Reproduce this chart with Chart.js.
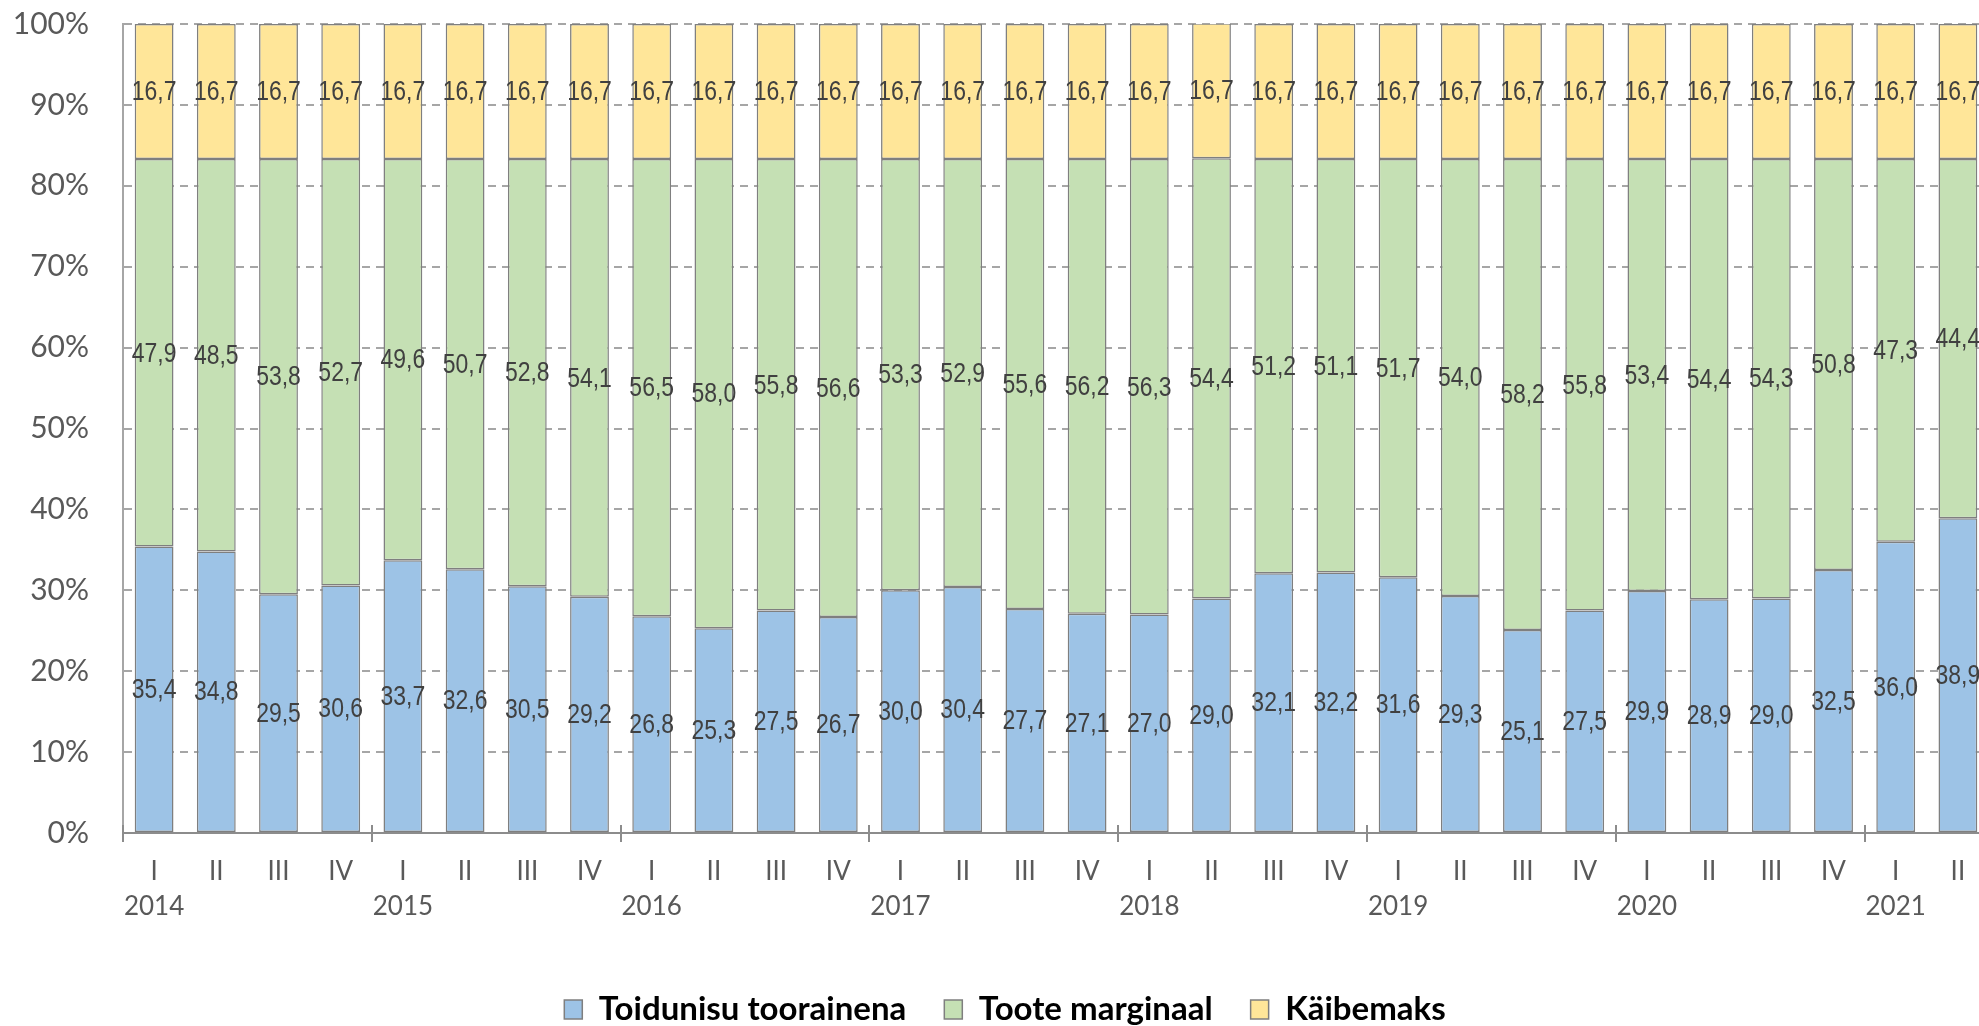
<!DOCTYPE html>
<html>
<head>
<meta charset="utf-8">
<script src="https://cdn.jsdelivr.net/npm/chart.js@4/dist/chart.umd.min.js"></script>
<style>
  html, body { margin: 0; padding: 0; background: #ffffff; overflow: hidden; width: 1979px; height: 1026px; }
  #wrap { position: absolute; left: 0; top: 0; width: 2010px; height: 1036px; }
  canvas { display: block; }
</style>
</head>
<body>
<div id="wrap"><canvas id="c" width="2010" height="1036" style="width:2010px;height:1036px"></canvas></div>
<script>
// ---- DATA ----
const quarters = ['I','II','III','IV','I','II','III','IV','I','II','III','IV','I','II','III','IV',
                  'I','II','III','IV','I','II','III','IV','I','II','III','IV','I','II'];
const years = ['2014','','','','2015','','','','2016','','','','2017','','','',
               '2018','','','','2019','','','','2020','','','','2021',''];
const seriesNames = ['Toidunisu toorainena', 'Toote marginaal', 'Käibemaks'];
const toorainena = [35.4, 34.8, 29.5, 30.6, 33.7, 32.6, 30.5, 29.2, 26.8, 25.3, 27.5, 26.7, 30.0, 30.4, 27.7,
                    27.1, 27.0, 29.0, 32.1, 32.2, 31.6, 29.3, 25.1, 27.5, 29.9, 28.9, 29.0, 32.5, 36.0, 38.9];
const marginaal = [47.9, 48.5, 53.8, 52.7, 49.6, 50.7, 52.8, 54.1, 56.5, 58.0, 55.8, 56.6, 53.3, 52.9, 55.6,
                   56.2, 56.3, 54.4, 51.2, 51.1, 51.7, 54.0, 58.2, 55.8, 53.4, 54.4, 54.3, 50.8, 47.3, 44.4];
const kaibemaks = [16.7, 16.7, 16.7, 16.7, 16.7, 16.7, 16.7, 16.7, 16.7, 16.7, 16.7, 16.7, 16.7, 16.7, 16.7,
                   16.7, 16.7, 16.7, 16.7, 16.7, 16.7, 16.7, 16.7, 16.7, 16.7, 16.7, 16.7, 16.7, 16.7, 16.7];
const yTicks = [0, 10, 20, 30, 40, 50, 60, 70, 80, 90, 100];

// narrow look: Liberation Sans squeezed horizontally (Arial Narrow is ~82% of Arial)
const labelFont = '28px "Liberation Sans", Arial, sans-serif';
const labelSqueeze = 0.82;

// ---- PLUGINS ----
const valueLabels = {
  id: 'valueLabels',
  afterDatasetsDraw(chart) {
    const ctx = chart.ctx;
    chart.data.datasets.forEach((ds, di) => {
      const meta = chart.getDatasetMeta(di);
      meta.data.forEach((el, i) => {
        const v = ds.data[i];
        const yc = (el.y + el.base) / 2;
        ctx.save();
        ctx.font = labelFont;
        ctx.fillStyle = '#404040';
        ctx.textAlign = 'center';
        ctx.textBaseline = 'middle';
        ctx.translate(el.x, yc + 1);
        ctx.scale(labelSqueeze, 1);
        ctx.fillText(v.toFixed(1).replace('.', ','), 0, 0);
        ctx.restore();
      });
    });
  }
};

const yearTicks = {
  id: 'yearTicks',
  afterDraw(chart) {
    const xs = chart.scales.x;
    const ctx = chart.ctx;
    const n = chart.data.labels.length;
    const half = xs.width / n / 2;
    const b = xs.top;
    ctx.save();
    ctx.strokeStyle = '#8c8c8c';
    ctx.lineWidth = 2;
    ctx.beginPath();
    for (let i = 0; i <= n; i++) {
      if (i % 4 !== 0) continue;
      const x = Math.round((i < n ? xs.getPixelForValue(i) : xs.getPixelForValue(n - 1) + 2 * half) - half);
      ctx.moveTo(x, b - 8);
      ctx.lineTo(x, b + 9);
    }
    ctx.stroke();
    ctx.restore();
  }
};

const colors = ['#9DC3E6', '#C5E0B4', '#FFE699'];
const values = [toorainena, marginaal, kaibemaks];

new Chart(document.getElementById('c'), {
  type: 'bar',
  data: {
    labels: quarters.map((q, i) => [q, years[i]]),
    datasets: seriesNames.map((name, k) => ({
      label: name,
      data: values[k],
      backgroundColor: colors[k],
      borderColor: '#7f7f7f',
      borderWidth: 1.5,
      borderSkipped: false,
      barPercentage: 0.624,
      categoryPercentage: 1.0
    }))
  },
  options: {
    responsive: false,
    devicePixelRatio: 1,
    animation: false,
    layout: { padding: { top: 24, left: 0, right: 0, bottom: 0 } },
    plugins: {
      legend: {
        position: 'bottom',
        labels: {
          font: { family: 'Lato', size: 33, weight: 'bold' },
          color: '#000000',
          boxWidth: 18,
          boxHeight: 19,
          padding: 38
        }
      },
      tooltip: { enabled: false }
    },
    scales: {
      x: {
        stacked: true,
        grid: { display: false, drawTicks: false },
        border: { display: true, color: '#8c8c8c', width: 2 },
        ticks: {
          autoSkip: false,
          maxRotation: 0,
          minRotation: 0,
          padding: 21,
          color: '#595959',
          font: { family: 'Lato', size: 26, lineHeight: 35 / 26 }
        },
        afterFit(s) { s.height = 122; }
      },
      y: {
        stacked: true,
        min: 0,
        max: 100,
        afterBuildTicks(s) { s.ticks = yTicks.map(v => ({ value: v })); },
        grid: {
          drawTicks: true,
          tickLength: 34,
          tickColor: 'rgba(0,0,0,0)',
          color: (c) => (c.tick && c.tick.value === 0) ? 'rgba(0,0,0,0)' : '#a6a6a6',
          lineWidth: 2
        },
        border: { display: true, color: '#a6a6a6', width: 2, dash: [8, 6] },
        ticks: {
          padding: 0,
          color: '#595959',
          font: { family: 'Lato', size: 30 },
          callback: (v) => v + '%'
        },
        afterFit(s) { s.width = 123; }
      },
      yR: {
        position: 'right',
        display: true,
        grid: { display: false, drawTicks: false },
        border: { display: false },
        ticks: { display: false },
        afterFit(s) { s.width = 21; }
      }
    }
  },
  plugins: [valueLabels, yearTicks]
});
</script>
</body>
</html>
